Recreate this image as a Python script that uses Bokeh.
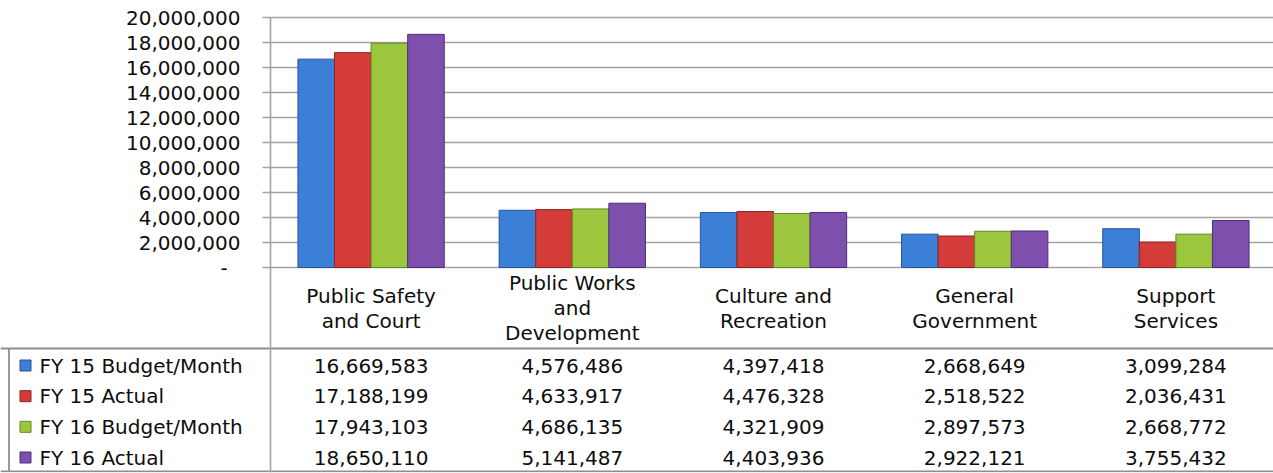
from bokeh.plotting import figure
from bokeh.models import (ColumnDataSource, Range1d, LinearAxis, FixedTicker,
                          CustomJSTickFormatter)
from bokeh.transform import dodge
from bokeh.core.properties import value
from bokeh.embed import file_html
from bokeh.resources import INLINE

# ---------------- data ----------------
categories = ["Public Safety\nand Court", "Public Works\nand\nDevelopment",
              "Culture and\nRecreation", "General\nGovernment", "Support\nServices"]
series_names = ["FY 15 Budget/Month", "FY 15 Actual", "FY 16 Budget/Month", "FY 16 Actual"]
fy15_budget = [16669583, 4576486, 4397418, 2668649, 3099284]
fy15_actual = [17188199, 4633917, 4476328, 2518522, 2036431]
fy16_budget = [17943103, 4686135, 4321909, 2897573, 2668772]
fy16_actual = [18650110, 5141487, 4403936, 2922121, 3755432]
y_ticks = [0, 2000000, 4000000, 6000000, 8000000, 10000000,
           12000000, 14000000, 16000000, 18000000, 20000000]

series = [fy15_budget, fy15_actual, fy16_budget, fy16_actual]
colors = ["#3c7fd6", "#d43c3a", "#9cc63e", "#7d50ae"]
edges = ["#24559c", "#92221f", "#628a22", "#4e2e78"]

# ---------------- layout constants ----------------
W, H = 1273, 473
PX_PER_CAT = 201.2
X_AXIS_AT = -0.5
X_START = X_AXIS_AT - 270 / PX_PER_CAT
X_END = X_START + W / PX_PER_CAT
BOT_PAD = 1
FRAME_H = H - BOT_PAD
PX_PER_UNIT = 250 / 20000000          # 20M gridline at y=17, zero at y=267
Y_END = 20000000 + 17 / PX_PER_UNIT
Y_START = Y_END - FRAME_H / PX_PER_UNIT
# table rows: row 0 centre at y 365, pitch 30.67 px; frame top y 0, bottom y 472
ROW_PITCH = 30.67
T_TOP = (0 - 365) / ROW_PITCH
T_BOT = (472 - 365) / ROW_PITCH

p = figure(width=W, height=H, output_backend="svg", toolbar_location=None,
           x_range=Range1d(X_START, X_END), y_range=Range1d(Y_START, Y_END),
           x_axis_location=None, y_axis_location=None,
           min_border_left=0, min_border_right=0,
           min_border_top=0, min_border_bottom=BOT_PAD)
p.extra_y_ranges = {"table": Range1d(T_BOT, T_TOP)}
p.outline_line_color = None
p.xgrid.visible = False
p.ygrid.visible = False
p.background_fill_color = "white"
p.border_fill_color = "white"

GRID = "#a3a3a3"
FONT = value("DejaVu Sans")
TXT = "#0d0d0d"

# gridlines (from tick list), from the axis to the right edge
p.segment(x0=[X_AXIS_AT] * len(y_ticks), x1=[X_END] * len(y_ticks),
          y0=y_ticks, y1=y_ticks, line_color=GRID, line_width=1.6, level="underlay")

# bars
src = ColumnDataSource(dict(x=list(range(len(categories))),
                            s0=fy15_budget, s1=fy15_actual, s2=fy16_budget, s3=fy16_actual))
bw = 1 / 5.5
for k in range(4):
    off = (k - 1.5) * bw
    p.vbar(x=dodge("x", off, range=p.x_range), top=f"s{k}", bottom=0, width=bw,
           source=src, fill_color=colors[k], line_color=edges[k], line_width=1)

# y axis placed at the left edge of the categories; its line runs down through the table
yaxis = LinearAxis(fixed_location=X_AXIS_AT, ticker=FixedTicker(ticks=y_ticks),
                   bounds=(Y_START, 20000000),
                   formatter=CustomJSTickFormatter(
                       code="return tick == 0 ? '-\\u2007' : tick.toLocaleString('en-US');"),
                   axis_line_color=GRID, axis_line_width=1.6,
                   major_tick_line_color=GRID, major_tick_line_width=1.6,
                   major_tick_in=0, major_tick_out=8, minor_tick_in=0, minor_tick_out=0,
                   major_label_standoff=22, major_label_text_font="DejaVu Sans",
                   major_label_text_font_size="20px", major_label_text_color=TXT)
p.add_layout(yaxis, "left")

# ---------------- data table ----------------
LINE = "#8f8f8f"
p.segment(x0=[X_START, X_START], x1=[X_END, X_END], y0=[-0.554, 3.45], y1=[-0.554, 3.45],
          y_range_name="table", line_color=LINE, line_width=1.8)
p.segment(x0=[X_START + 8.5 / PX_PER_CAT], x1=[X_START + 8.5 / PX_PER_CAT],
          y0=[-0.554], y1=[3.45], y_range_name="table", line_color=LINE, line_width=1.8)

# category labels
p.text(x=list(range(len(categories))), y=[-1.86] * len(categories), text=categories,
       y_range_name="table", text_font=FONT, text_font_size="20px", text_color=TXT,
       text_align="center", text_baseline="middle", text_line_height=1.04)

# values
tx, ty, tt = [], [], []
for k, vals in enumerate(series):
    for i, v in enumerate(vals):
        tx.append(i)
        ty.append(k)
        tt.append(f"{v:,}")
p.text(x=tx, y=ty, text=tt, y_range_name="table", text_font=FONT, text_font_size="20px",
       text_color=TXT, text_align="center", text_baseline="middle")

# legend keys
rows = list(range(len(series_names)))
p.scatter(x=[X_START + 25 / PX_PER_CAT] * 4, y=rows, y_range_name="table", marker="square",
          size=11, fill_color=colors, line_color=edges, line_width=1)
p.text(x=[X_START + 39 / PX_PER_CAT] * 4, y=rows, text=series_names, y_range_name="table",
       text_font=FONT, text_font_size="20px", text_color=TXT,
       text_align="left", text_baseline="middle")

open("out.html", "w").write(file_html(p, INLINE))
